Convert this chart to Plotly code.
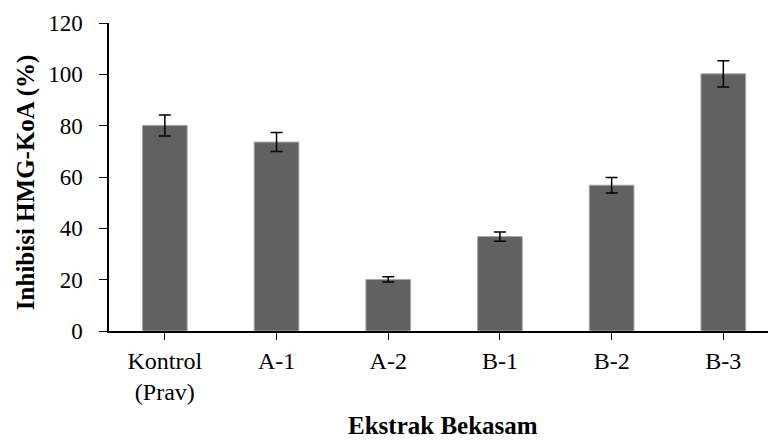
import plotly.graph_objects as go

categories = ["Kontrol<br>(Prav)", "A-1", "A-2", "B-1", "B-2", "B-3"]
values = [80.1, 73.6, 20.1, 36.8, 56.8, 100.2]
errors = [4.1, 3.7, 1.0, 1.8, 3.0, 5.1]
y_ticks = [0, 20, 40, 60, 80, 100, 120]

FONT = "Liberation Serif, Times New Roman, serif"

fig = go.Figure()
fig.add_trace(go.Bar(
    x=list(range(len(categories))),
    y=values,
    width=0.4,
    marker=dict(color="#616161", line=dict(color="#a8a8a8", width=1)),
    error_y=dict(type="data", array=errors, visible=True,
                 color="black", thickness=1.5, width=6),
))

fig.update_layout(
    width=768, height=441,
    margin=dict(l=109, r=0, t=23, b=110),
    plot_bgcolor="white", paper_bgcolor="white",
    showlegend=False,
    font=dict(family=FONT, size=23, color="black"),
    xaxis=dict(
        range=[-0.5, 5.4],
        tickmode="array",
        tickvals=list(range(len(categories))),
        ticktext=categories,
        showline=True, linecolor="black", linewidth=1.5,
        ticks="outside", ticklen=7, tickwidth=1.2, tickcolor="black",
        tickson="boundaries",
        showgrid=False, zeroline=False,
        tickfont=dict(family=FONT, size=24, color="black"),
        ticklabelstandoff=0,
    ),
    yaxis=dict(
        range=[0, 120],
        tickmode="array",
        tickvals=y_ticks,
        showline=True, linecolor="black", linewidth=1.5,
        ticks="outside", ticklen=8, tickwidth=1.2, tickcolor="black",
        showgrid=False, zeroline=False,
        tickfont=dict(family=FONT, size=23, color="black"),
        ticklabelstandoff=12,
    ),
)

fig.add_annotation(
    text="<b>Ekstrak Bekasam</b>", xref="paper", yref="paper",
    x=(443 - 109) / 659, y=-(425 - 330.7) / 307.7,
    xanchor="center", yanchor="middle", showarrow=False,
    font=dict(family=FONT, size=25, color="black"),
)
fig.add_annotation(
    text="<b>Inhibisi HMG-KoA (%)</b>", xref="paper", yref="paper",
    x=-(109 - 26) / 659, y=(330.7 - 182) / 307.7,
    xanchor="center", yanchor="middle", showarrow=False, textangle=-90,
    font=dict(family=FONT, size=25, color="black"),
)

fig.write_html("out.html")
